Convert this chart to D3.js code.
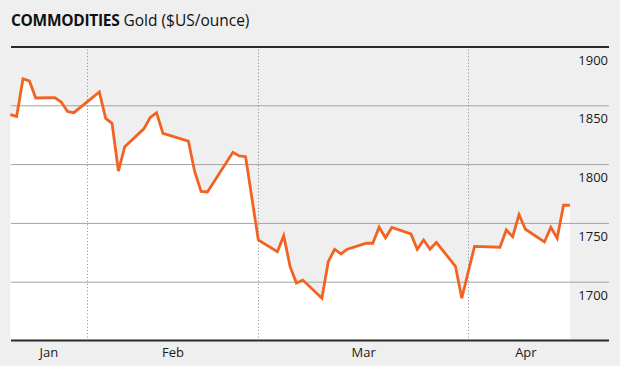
<!DOCTYPE html>
<html>
<head>
<meta charset="utf-8">
<script src="https://cdn.jsdelivr.net/npm/d3@7"></script>
<style>
  html, body { margin: 0; padding: 0; background: #eeefee; }
  svg { display: block; }
</style>
</head>
<body>
<script>
var width = 620
var height = 366

// gold price, $US/ounce
var dates = [
  '2021-01-18', '2021-01-19', '2021-01-20', '2021-01-21', '2021-01-22',
  '2021-01-25', '2021-01-26', '2021-01-27', '2021-01-28',
  '2021-02-01', '2021-02-02', '2021-02-03', '2021-02-04', '2021-02-05',
  '2021-02-08', '2021-02-09', '2021-02-10', '2021-02-11',
  '2021-02-15', '2021-02-16', '2021-02-17', '2021-02-18',
  '2021-02-22', '2021-02-23', '2021-02-24', '2021-02-26',
  '2021-03-01', '2021-03-02', '2021-03-03', '2021-03-04', '2021-03-05',
  '2021-03-08', '2021-03-09', '2021-03-10', '2021-03-11', '2021-03-12',
  '2021-03-15', '2021-03-16', '2021-03-17', '2021-03-18', '2021-03-19',
  '2021-03-22', '2021-03-23', '2021-03-24', '2021-03-25', '2021-03-26',
  '2021-03-29', '2021-03-30',
  '2021-04-01', '2021-04-05', '2021-04-06', '2021-04-07', '2021-04-08', '2021-04-09',
  '2021-04-12', '2021-04-13', '2021-04-14', '2021-04-15', '2021-04-16'
]
var prices = [
  1842, 1840.5, 1872.5, 1870.7, 1856.2,
  1856.6, 1852.8, 1844.7, 1843.7,
  1861.3, 1838.9, 1834.7, 1794.1, 1814.8,
  1830, 1839.6, 1843.7, 1826.2,
  1819.6, 1793.5, 1776.7, 1776.3,
  1810, 1806.9, 1806.3, 1735.5,
  1725.5, 1739.1, 1712.8, 1698.9, 1701.4,
  1685.9, 1717, 1727.6, 1723.6, 1727.6,
  1732.7, 1732.7, 1746.3, 1737.3, 1746.1,
  1740.6, 1727.6, 1735.5, 1727.6, 1733.5,
  1713.1, 1685.9,
  1730, 1729.3, 1744, 1738.3, 1757, 1744.6,
  1733.8, 1746.3, 1736.9, 1765, 1765
]
var yTicks = [1700, 1750, 1800, 1850, 1900]
var monthDividers = ['2021-01-30', '2021-02-26', '2021-03-31']
var monthTicks = ['2021-01-24 00:00', '2021-02-12 12:00', '2021-03-14 12:00', '2021-04-09 00:00']

var parseDay = d3.timeParse('%Y-%m-%d')
var parseTime = d3.timeParse('%Y-%m-%d %H:%M')

var data = dates.map((d, i) => { return { date: parseDay(d), value: prices[i] } })

var plotLeft = 11
var plotRight = 609
var plotTop = 46.5
var plotBottom = 340.5

var svg = d3.select('body').append('svg')
  .attr('width', width)
  .attr('height', height)
  .style('background-color', '#eeefee')
  .style('font-family', '"Open Sans", sans-serif')

var x = d3.scaleTime()
  .domain(d3.extent(data, (d) => d.date))
  .range([10.3, 569.9])

var y = d3.scaleLinear()
  .domain([1650, 1900])
  .range([plotBottom, plotTop])

// title
var title = svg.append('text')
  .attr('x', 11)
  .attr('y', 26)
  .style('font-size', '15.5px')
  .style('fill', '#111')
title.append('tspan').style('font-weight', 'bold').style('letter-spacing', '-0.3px').text('COMMODITIES')
title.append('tspan').text(' Gold ($US/ounce)')

// white area under the line
var area = d3.area()
  .x((d) => x(d.date))
  .y0(y(1650))
  .y1((d) => y(d.value))

svg.append('path')
  .datum(data)
  .attr('d', area)
  .style('fill', '#fff')

// horizontal gridlines with labels sitting under them
var yAxis = d3.axisLeft(y)
  .tickValues(yTicks)
  .tickSize(plotRight - plotLeft)
  .tickFormat(d3.format('d'))

var yg = svg.append('g')
  .attr('transform', 'translate(' + plotRight + ',0)')
  .call(yAxis)
yg.select('.domain').remove()
yg.selectAll('.tick line')
  .style('stroke', (d) => d === 1900 ? '#2a2a2a' : '#a3a3a3')
  .style('stroke-width', (d) => d === 1900 ? 2 : 1)
yg.selectAll('.tick text')
  .attr('x', -1)
  .attr('dy', 17.5)
  .style('text-anchor', 'end')
  .style('font-family', '"Open Sans", sans-serif')
  .style('font-size', '13px')
  .style('fill', '#1a1a1a')

// dotted month dividers
svg.selectAll('.divider')
  .data(monthDividers.map(parseDay))
  .enter()
  .append('line')
  .attr('class', 'divider')
  .attr('x1', (d) => Math.round(x(d)) + 0.5)
  .attr('x2', (d) => Math.round(x(d)) + 0.5)
  .attr('y1', plotTop + 3)
  .attr('y2', plotBottom - 2)
  .style('stroke', '#888')
  .style('stroke-width', 1)
  .style('stroke-dasharray', '1,2.3')

// month labels
var xAxis = d3.axisBottom(x)
  .tickValues(monthTicks.map(parseTime))
  .tickFormat(d3.timeFormat('%b'))
  .tickSize(0)

var xg = svg.append('g')
  .attr('transform', 'translate(0,' + plotBottom + ')')
  .call(xAxis)
xg.select('.domain').remove()
xg.selectAll('.tick text')
  .attr('y', 7.5)
  .style('font-family', '"Open Sans", sans-serif')
  .style('font-size', '13px')
  .style('fill', '#1a1a1a')

// baseline
svg.append('line')
  .attr('x1', plotLeft)
  .attr('x2', plotRight)
  .attr('y1', y(1650))
  .attr('y2', y(1650))
  .style('stroke', '#2a2a2a')
  .style('stroke-width', 2)

// price line
var line = d3.line()
  .x((d) => x(d.date))
  .y((d) => y(d.value))

svg.append('path')
  .datum(data)
  .attr('d', line)
  .style('fill', 'none')
  .style('stroke', '#f26322')
  .style('stroke-width', 2.8)
  .style('stroke-linejoin', 'miter')
</script>
</body>
</html>
